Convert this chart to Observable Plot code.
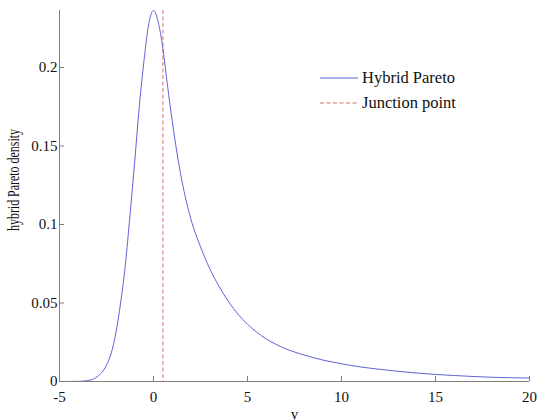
<!DOCTYPE html>
<html>
<head>
<meta charset="utf-8">
<script src="https://cdn.jsdelivr.net/npm/d3@7"></script>
<script src="https://cdn.jsdelivr.net/npm/@observablehq/plot@0.6"></script>
<style>
  html, body { margin: 0; padding: 0; background: #fff; }
  #wrap { position: relative; width: 537px; height: 420px; font-family: "Liberation Serif", "Times New Roman", serif; }
  #legend { position: absolute; left: 320px; top: 65px; font-size: 16.5px; color: #111; }
  #legend .row { display: flex; align-items: center; height: 25.5px; }
  #legend svg { margin-right: 4px; }
</style>
</head>
<body>
<div id="wrap"></div>
<script>
// Density curve
const xs = [-5, -4, -3.5, -3, -2.5, -2.25, -2, -1.75, -1.5, -1.25, -1, -0.75, -0.5, -0.25, 0, 0.25, 0.5, 0.75, 1, 1.25, 1.5, 1.75, 2, 2.5, 3, 3.5, 4, 4.5, 5, 5.5, 6, 7, 8, 9, 10, 11, 12, 13, 14, 15, 16, 17, 18, 19, 20];
const ys = [0, 0.0001, 0.0006, 0.003, 0.0105, 0.018, 0.031, 0.050, 0.074, 0.106, 0.140, 0.176, 0.205, 0.228, 0.2363, 0.229, 0.212, 0.188, 0.1655, 0.1455, 0.1285, 0.1145, 0.103, 0.0858, 0.0717, 0.0603, 0.0507, 0.0428, 0.0365, 0.0313, 0.0271, 0.0210, 0.0169, 0.0137, 0.0113, 0.0093, 0.0078, 0.0065, 0.0054, 0.0045, 0.0038, 0.0032, 0.0027, 0.0024, 0.0022];
const junction = [0.5];
const xTicks = [-5, 0, 5, 10, 15, 20];
const yTicks = [0, 0.05, 0.1, 0.15, 0.2];
const yTickLabels = ["0", "0.05", "0.1", "0.15", "0.2"];
const legendLabels = ["Hybrid Pareto", "Junction point"];

const data = xs.map((x, i) => ({x, y: ys[i]}));
const axisGray = "#7f7f7f";
const blue = "#6262d8";
const red = "#e8a0a0";

const chart = Plot.plot({
  width: 537,
  height: 420,
  marginLeft: 59,
  marginRight: 8,
  marginTop: 10,
  marginBottom: 39,
  style: {fontFamily: "'Liberation Serif', 'Times New Roman', serif", fontSize: "15px", color: "#111", background: "#fff"},
  x: {domain: [-5, 20]},
  y: {domain: [0, 0.2363]},
  marks: [
    Plot.ruleX(junction, {x: d => d, stroke: red, strokeWidth: 1.5, strokeDasharray: "4,2.5"}),
    Plot.line(data, {x: "x", y: "y", stroke: blue, strokeWidth: 1, curve: "monotone-x"}),
    Plot.ruleY([0], {stroke: axisGray}),
    Plot.ruleX([-5], {stroke: axisGray}),
    Plot.axisX({ticks: xTicks, tickSize: -5, tickPadding: 15, stroke: axisGray, fill: "#111", fontSize: 15,
      tickFormat: d => String(d),
      label: "y", labelAnchor: "center", labelArrow: "none", labelOffset: 37}),
    Plot.axisY({ticks: yTicks, tickSize: -5, tickPadding: 7, stroke: axisGray, fill: "#111", fontSize: 15,
      tickFormat: d => yTickLabels[yTicks.indexOf(d)],
      label: "hybrid Pareto density", labelAnchor: "center", labelArrow: "none", labelOffset: 52})
  ]
});

const wrap = document.getElementById("wrap");
wrap.appendChild(chart);

// The reference's rotated axis title is horizontally compressed and sits a bit above centre
d3.select(chart).selectAll("text").filter(function() { return this.textContent === "hybrid Pareto density"; })
  .attr("font-size", 16).style("font-size", "16px")
  .attr("textLength", 102).attr("lengthAdjust", "spacingAndGlyphs")
  .each(function() {
    const t = this.getAttribute("transform") || "";
    this.setAttribute("transform", t + " translate(16,0)");
  });

const legend = document.createElement("div");
legend.id = "legend";
const styles = [{stroke: blue, dash: "", w: 1}, {stroke: red, dash: "4,2.5", w: 1.5}];
legendLabels.forEach((lab, i) => {
  const row = document.createElement("div");
  row.className = "row";
  row.innerHTML = `<svg width="38" height="6"><line x1="0" x2="38" y1="3" y2="3" stroke="${styles[i].stroke}" stroke-width="${styles[i].w}" stroke-dasharray="${styles[i].dash}"/></svg><span>${lab}</span>`;
  legend.appendChild(row);
});
wrap.appendChild(legend);
</script>
</body>
</html>
